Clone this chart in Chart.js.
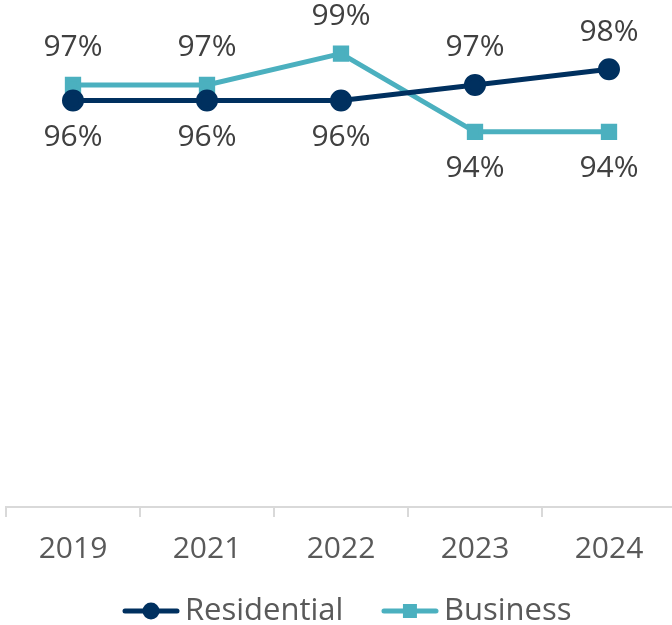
<!DOCTYPE html>
<html>
<head>
<meta charset="utf-8">
<script src="https://cdn.jsdelivr.net/npm/chart.js@4/dist/chart.umd.min.js"></script>
<style>
  html, body { margin: 0; padding: 0; background: #fff; overflow: hidden; }
  .wrap { position: relative; width: 676px; height: 625px; }
</style>
</head>
<body>
<div class="wrap"><canvas id="chart"></canvas></div>
<script>
const years = ['2019', '2021', '2022', '2023', '2024'];
const residential = [96, 96, 96, 97, 98];
const business = [97, 97, 99, 94, 94];

const NAVY = '#00305f';
const TEAL = '#4bb0bf';
const FONT = "'Open Sans', sans-serif";

// line + marker swatch for the legend (22px blank on the left)
function swatch(color, shape) {
  const c = document.createElement('canvas');
  c.width = 80; c.height = 20;
  const g = c.getContext('2d');
  g.strokeStyle = color;
  g.lineWidth = 5;
  g.lineCap = 'round';
  g.beginPath(); g.moveTo(25, 10); g.lineTo(77, 10); g.stroke();
  g.fillStyle = color;
  if (shape === 'circle') {
    g.beginPath(); g.arc(51, 10, 8.5, 0, Math.PI * 2); g.fill();
  } else {
    g.fillRect(44, 3, 14, 14);
  }
  return c;
}

// value labels: the higher series gets its label above, the lower one below
const valueLabels = {
  id: 'valueLabels',
  afterDatasetsDraw(chart) {
    const ctx = chart.ctx;
    const sets = chart.data.datasets;
    ctx.save();
    ctx.font = '400 30px ' + FONT;
    ctx.fillStyle = '#404040';
    ctx.textAlign = 'center';
    ctx.textBaseline = 'middle';
    sets.forEach((ds, i) => {
      const other = sets[1 - i].data;
      chart.getDatasetMeta(i).data.forEach((pt, j) => {
        const above = ds.data[j] > other[j];
        const y = above ? pt.y - 37 : pt.y + 37;
        ctx.fillText(ds.data[j] + '%', pt.x, y);
      });
    });
    ctx.restore();
  }
};

new Chart(document.getElementById('chart'), {
  type: 'line',
  data: {
    labels: years,
    datasets: [
      {
        label: 'Residential',
        data: residential,
        borderColor: NAVY,
        backgroundColor: NAVY,
        borderWidth: 5,
        pointStyle: 'circle',
        pointRadius: 8.5,
        pointHoverRadius: 8.5,
        legendSwatch: swatch(NAVY, 'circle')
      },
      {
        label: 'Business',
        data: business,
        borderColor: TEAL,
        backgroundColor: TEAL,
        borderWidth: 5,
        pointStyle: 'rect',
        pointRadius: 8,
        pointHoverRadius: 8,
        legendSwatch: swatch(TEAL, 'rect')
      }
    ]
  },
  options: {
    responsive: true,
    maintainAspectRatio: false,
    animation: false,
    layout: { autoPadding: false, padding: { left: 6, top: 38, right: 0, bottom: -11.5 } },
    scales: {
      x: {
        offset: true,
        grid: {
          offset: true,
          drawOnChartArea: false,
          color: '#d9d9d9',
          lineWidth: 2,
          tickLength: 10
        },
        border: { color: '#d9d9d9', width: 2 },
        ticks: {
          color: '#595959',
          padding: 14,
          font: { family: FONT, size: 30 }
        },
        afterFit(scale) { scale.height = 62.5; }
      },
      y: {
        display: false,
        min: 70,
        max: 100
      }
    },
    plugins: {
      tooltip: { enabled: false },
      legend: {
        position: 'bottom',
        labels: {
          usePointStyle: true,
          pointStyleWidth: 59,
          boxHeight: 20,
          padding: 26,
          color: '#595959',
          font: { family: FONT, size: 31 },
          generateLabels(chart) {
            return chart.data.datasets.map((ds, i) => ({
              text: ds.label,
              pointStyle: ds.legendSwatch,
              fillStyle: ds.borderColor,
              strokeStyle: ds.borderColor,
              lineWidth: 0,
              fontColor: '#595959',
              hidden: false,
              datasetIndex: i
            }));
          }
        }
      }
    }
  },
  plugins: [valueLabels]
});
</script>
</body>
</html>
